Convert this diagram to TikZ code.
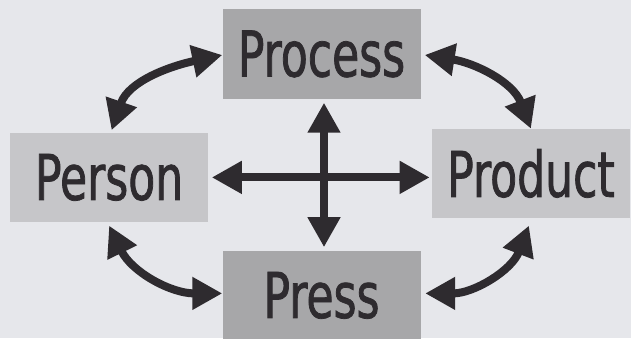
\documentclass[tikz,border=0pt]{standalone}
\usepackage{fontspec}
\newfontfamily\boxfont[FakeStretch=0.7,FakeBold=1.2]{DejaVu Sans}
\usetikzlibrary{positioning,arrows.meta}
\definecolor{paper}{HTML}{E6E7EB}
\definecolor{darkbox}{HTML}{A7A7A9}
\definecolor{lightbox}{HTML}{C6C6C9}
\definecolor{ink}{HTML}{2E2B2F}
\begin{document}
\begin{tikzpicture}[x=1pt, y=1pt,
        box/.style = {minimum width=198pt, minimum height=89pt, inner sep=0pt,
                      text=ink, font=\boxfont\fontsize{63}{63}\selectfont},
        dark/.style = {box, fill=darkbox},
        light/.style = {box, fill=lightbox},
        both/.style = {{Triangle[length=30pt,width=31pt]}-{Triangle[length=30pt,width=31pt]},
                       line width=8pt, draw=ink}]

        \useasboundingbox (0,0) rectangle (631,338);
        \fill[paper] (0,0) rectangle (631,338);

        \node[dark] (process) at (321.5,284) {Process};
        \node[light] (person) [below left=34pt and 14pt of process] {Person};
        \node[light] (product) [below right=30pt and 11pt of process] {Product};
        \node[dark] (press) [below=152pt of process] {Press};

        % round the four boxes
        \draw[both] ([shift={(2.5,2.5)}]person.north) to[out=71, in=192] ([yshift=-1pt]process.west);
        \draw[both] ([shift={(4,-1)}]process.east) to[out=-9, in=111] (product.north);
        \draw[both] ([yshift=-3.5pt]person.south) to[out=-64, in=180] ([yshift=2pt]press.west);
        \draw[both] ([shift={(4.5,2)}]press.east) to[out=0, in=249] ([shift={(-2,-7.5)}]product.south);

        % the cross
        \draw[both] ([shift={(2.5,-4)}]process.south) -- ([shift={(2.5,3.5)}]press.north);
        \draw[both] ([xshift=3.5pt]person.east) -- ([xshift=-2pt]person.east -| product.west);
\end{tikzpicture}
\end{document}
